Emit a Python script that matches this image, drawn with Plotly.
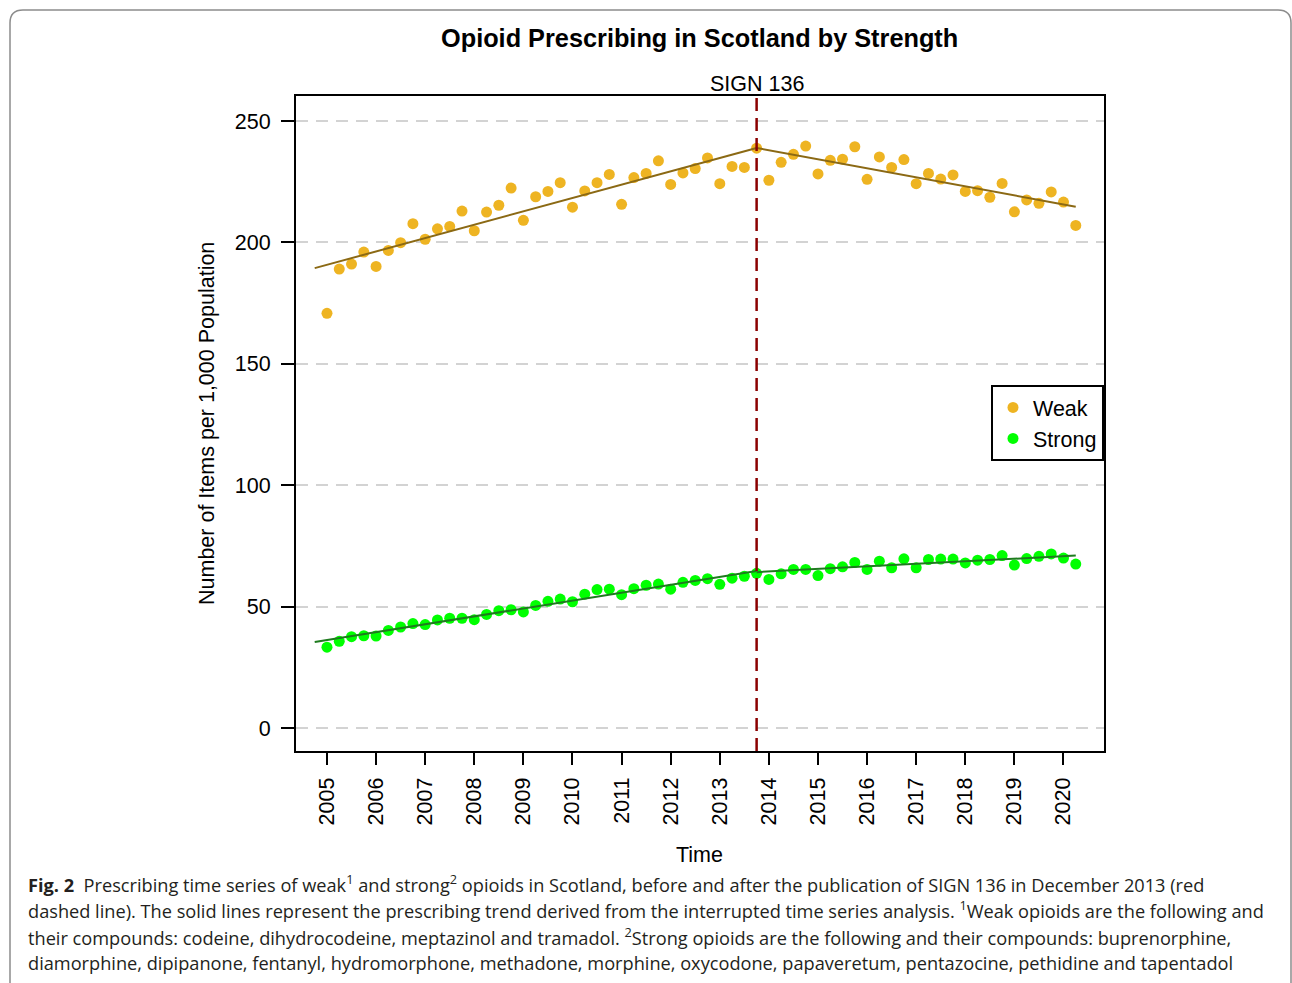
import plotly.graph_objects as go

# ---------------- data ----------------
start_year = 2005
n_quarters = 62
time = [start_year + i / 4 for i in range(n_quarters)]

weak = [170.8, 189.0, 191.1, 196.0, 190.1, 196.7, 199.9, 207.7, 201.3, 205.6,
        206.6, 212.9, 204.8, 212.5, 215.3, 222.4, 209.1, 218.8, 221.0, 224.6,
        214.5, 221.2, 224.6, 228.0, 215.7, 226.7, 228.4, 233.6, 223.9, 228.6,
        230.4, 234.8, 224.2, 231.3, 230.9, 238.8, 225.6, 233.0, 236.3, 239.7,
        228.2, 233.8, 234.3, 239.4, 226.0, 235.2, 230.9, 234.1, 224.2, 228.4,
        226.1, 227.8, 221.0, 221.3, 218.6, 224.3, 212.6, 217.5, 216.1, 220.8,
        216.6, 207.0]

strong = [33.3, 35.7, 37.6, 38.0, 37.9, 40.2, 41.6, 43.0, 42.6, 44.5,
          45.2, 45.2, 44.6, 46.8, 48.3, 48.7, 47.8, 50.5, 52.2, 53.1,
          52.0, 55.1, 57.0, 57.2, 54.9, 57.4, 58.8, 59.3, 57.2, 60.0,
          60.8, 61.5, 59.2, 61.7, 62.5, 63.7, 61.2, 63.5, 65.3, 65.3,
          62.8, 65.6, 66.4, 68.2, 65.3, 68.7, 66.0, 69.7, 66.0, 69.4,
          69.6, 69.6, 68.0, 69.1, 69.4, 71.0, 67.1, 69.8, 70.7, 71.7,
          70.0, 67.5]

intervention = 2013.75  # SIGN 136, December 2013

# fitted segmented trends (endpoints)
trend_pre_x = [2004.75, 2013.75]
trend_post_x = [2013.75, 2020.25]
weak_trend_pre = [189.4, 238.9]
weak_trend_post = [238.9, 214.7]
strong_trend_pre = [35.4, 64.7]
strong_trend_post = [64.2, 71.0]

year_ticks = list(range(2005, 2021))
y_ticks = [0, 50, 100, 150, 200, 250]

caption_lines = [
    "<b>Fig. 2</b>  Prescribing time series of weak<sup>1</sup> and strong<sup>2</sup> opioids in Scotland, before and after the publication of SIGN 136 in December 2013 (red",
    "dashed line). The solid lines represent the prescribing trend derived from the interrupted time series analysis. <sup>1</sup>Weak opioids are the following and",
    "their compounds: codeine, dihydrocodeine, meptazinol and tramadol. <sup>2</sup>Strong opioids are the following and their compounds: buprenorphine,",
    "diamorphine, dipipanone, fentanyl, hydromorphone, methadone, morphine, oxycodone, papaveretum, pentazocine, pethidine and tapentadol",
]

# ---------------- layout geometry (pixels) ----------------
W, H = 1292, 983
L, R, T, B = 296, 1104, 96, 751
PW, PH = R - L, B - T


def px(x):
    return (x - L) / PW


def py(y):
    return (B - y) / PH


FONT = "Liberation Sans, Arial, sans-serif"
FS = 21.5
WEAK_C = "#EEB422"
STRONG_C = "#00FF00"

fig = go.Figure()

fig.add_trace(go.Scatter(x=time, y=weak, mode="markers", name="Weak",
                         marker=dict(color=WEAK_C, size=11)))
fig.add_trace(go.Scatter(x=time, y=strong, mode="markers", name="Strong",
                         marker=dict(color=STRONG_C, size=11)))

for xs, ys, c in [(trend_pre_x, weak_trend_pre, "#8B6914"),
                  (trend_post_x, weak_trend_post, "#8B6914"),
                  (trend_pre_x, strong_trend_pre, "#1E7B1E"),
                  (trend_post_x, strong_trend_post, "#1E7B1E")]:
    fig.add_trace(go.Scatter(x=xs, y=ys, mode="lines", showlegend=False,
                             line=dict(color=c, width=2), hoverinfo="skip"))

shapes = [
    dict(type="line", xref="x", yref="paper", x0=intervention, x1=intervention,
         y0=0, y1=1, line=dict(color="#8B0000", width=2.5, dash="13px,7px"),
         layer="above"),
    # outer rounded figure border
    dict(type="path", xref="paper", yref="paper",
         path=(f"M {px(10)},{py(995)} L {px(10)},{py(23)} "
               f"Q {px(10)},{py(10)} {px(23)},{py(10)} "
               f"L {px(1278)},{py(10)} Q {px(1291)},{py(10)} {px(1291)},{py(23)} "
               f"L {px(1291)},{py(995)}"),
         line=dict(color="#8C8C8C", width=1.5)),
]

annotations = [
    dict(text="<b>Opioid Prescribing in Scotland by Strength</b>", x=px(699), y=py(38),
         xref="paper", yref="paper", showarrow=False, xanchor="center", yanchor="middle",
         font=dict(family=FONT, size=25.3, color="black")),
    dict(text="SIGN 136", x=intervention, y=py(84), xref="x", yref="paper",
         showarrow=False, xanchor="center", yanchor="middle",
         font=dict(family=FONT, size=FS, color="black")),
    dict(text="Number of Items per 1,000 Population", x=px(207), y=py(424),
         xref="paper", yref="paper", showarrow=False, textangle=-90,
         xanchor="center", yanchor="middle", font=dict(family=FONT, size=FS, color="black")),
    dict(text="Time", x=px(699), y=py(855), xref="paper", yref="paper", showarrow=False,
         xanchor="center", yanchor="middle", font=dict(family=FONT, size=FS, color="black")),
]
for i, line in enumerate(caption_lines):
    annotations.append(dict(text=line, x=px(26), y=py(883 + i * 26.7), xref="paper",
                            yref="paper", showarrow=False, xanchor="left", yanchor="middle",
                            align="left",
                            font=dict(family="Open Sans, sans-serif", size=18.2, color="#231F20")))

fig.update_layout(
    width=W, height=H,
    margin=dict(l=L, r=W - R, t=T, b=H - B, pad=0),
    paper_bgcolor="white", plot_bgcolor="white",
    font=dict(family=FONT, size=FS, color="black"),
    showlegend=True,
    legend=dict(x=1.0, y=py(385), xanchor="right", yanchor="top",
                bgcolor="white", bordercolor="black", borderwidth=2,
                font=dict(family=FONT, size=FS, color="black"),
                tracegroupgap=0),
    shapes=shapes,
    annotations=annotations,
    xaxis=dict(range=[2004.369, 2020.825], tickvals=year_ticks,
               ticktext=[str(y) for y in year_ticks], tickangle=-90,
               ticks="outside", ticklen=12, tickwidth=2, tickcolor="black",
               showline=True, linecolor="black", linewidth=2, mirror=True,
               showgrid=False, zeroline=False, ticklabelstandoff=4,
               tickfont=dict(family=FONT, size=FS, color="black")),
    yaxis=dict(range=[-9.47, 260.3], tickvals=y_ticks,
               ticks="outside", ticklen=13, tickwidth=2, tickcolor="black",
               showline=True, linecolor="black", linewidth=2, mirror=True,
               showgrid=True, gridcolor="#D3D3D3", gridwidth=2, griddash="12px,8px",
               zeroline=False, ticklabelstandoff=6,
               tickfont=dict(family=FONT, size=FS, color="black")),
)

fig.write_html("out.html", config={"displayModeBar": False},
               post_script="document.body.style.margin='0px';document.body.style.overflow='hidden';")
